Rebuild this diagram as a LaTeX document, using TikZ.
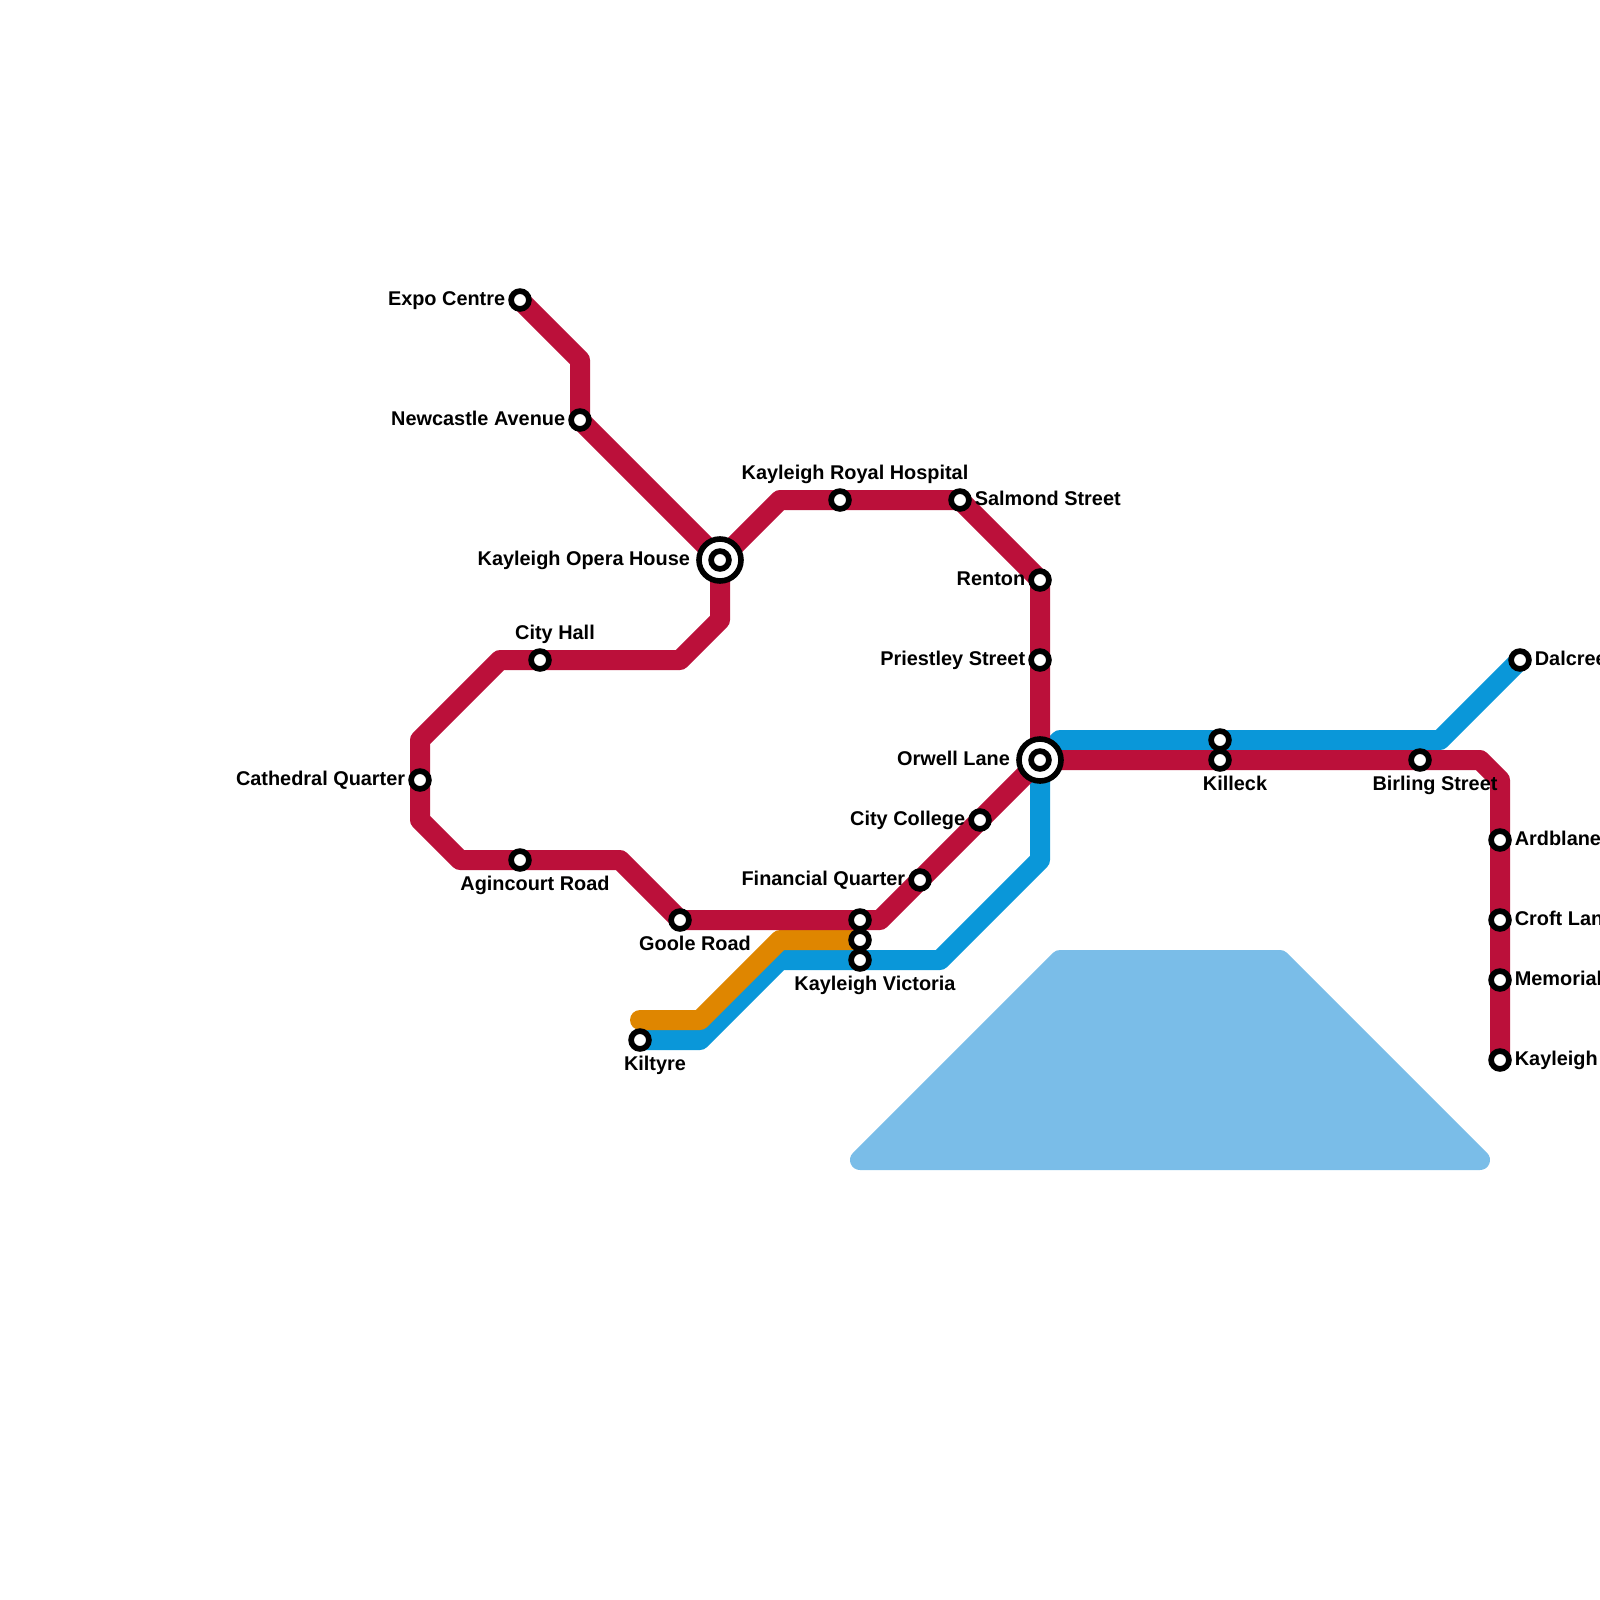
\documentclass[tikz,border=0pt]{standalone}
\usepackage{fontspec}
\setmainfont{Liberation Sans}
\usetikzlibrary{positioning, backgrounds}
\definecolor{mRed}{HTML}{BB103A}
\definecolor{mBlue}{HTML}{0A97D9}
\definecolor{mOrange}{HTML}{DF8600}
\definecolor{mLake}{HTML}{7ABDE8}
\begin{document}
\begin{tikzpicture}[x=5mm, y=-5mm,
      stn/.style={draw, circle, fill=white, line width=1.42mm, minimum size=4.45mm, inner sep=0pt},
      hub/.style={draw, circle, fill=white, line width=1.4mm, minimum size=10.5mm, inner sep=0pt},
      lbl/.style={inner sep=0pt, text height=3.6mm, text depth=0pt, font=\bfseries\fontsize{14.15}{16}\selectfont},
      side/.style={lbl, yshift=0.4mm},
      up/.style={lbl, xshift=3.75mm},
      dn/.style={lbl, xshift=3.75mm},
      metro/.style={line width=5mm, line join=round},
      lake/.style={draw=mLake, fill=mLake, line width=5mm, line join=round}]
    \useasboundingbox (0,0) rectangle (80,80);
    % stations
    \node[stn] (expo)     at (26,15)   {};
    \node[stn] (newc)     at (29,21)   {};
    \node[hub] (opera)    at (36,28)   {};
    \node[stn] (operain)  at (36,28)   {};
    \node[stn] (royal)    at (42,25)   {};
    \node[stn] (salmond)  at (48,25)   {};
    \node[stn] (renton)   at (52,29)   {};
    \node[stn] (priest)   at (52,33)   {};
    \node[hub] (orwell)   at (52,38)   {};
    \node[stn] (orwellin) at (52,38)   {};
    \node[stn] (college)  at (49,41)   {};
    \node[stn] (finance)  at (46,44)   {};
    \node[stn] (cityhall) at (27,33)   {};
    \node[stn] (cathedral) at (21,39)  {};
    \node[stn] (agin)     at (26,43)   {};
    \node[stn] (goole)    at (34,46)   {};
    \node[stn] (vicr)     at (43,46)   {};
    \node[stn] (vico)     at (43,47)   {};
    \node[stn] (vicb)     at (43,48)   {};
    \node[stn] (kiltyre)  at (32,52)   {};
    \node[stn] (killb)    at (61,37)   {};
    \node[stn] (killr)    at (61,38)   {};
    \node[stn] (birling)  at (71,38)   {};
    \node[stn] (dalcree)  at (76,33)   {};
    \node[stn] (ardblane) at (75,42)   {};
    \node[stn] (croft)    at (75,46)   {};
    \node[stn] (memorial) at (75,49)   {};
    \node[stn] (kayleigh) at (75,53)   {};
    % bends
    \coordinate (b1)  at (29,18);
    \coordinate (b2)  at (39,25);
    \coordinate (b3)  at (36,31);
    \coordinate (b4)  at (34,33);
    \coordinate (b5)  at (25,33);
    \coordinate (b6)  at (21,37);
    \coordinate (b7)  at (21,41);
    \coordinate (b8)  at (23,43);
    \coordinate (b9)  at (31,43);
    \coordinate (b10) at (44,46);
    \coordinate (b11) at (74,38);
    \coordinate (b12) at (75,39);
    \coordinate (c1)  at (35,52);
    \coordinate (c2)  at (39,48);
    \coordinate (c3)  at (47,48);
    \coordinate (c4)  at (52,43);
    \coordinate (c5)  at (53,37);
    \coordinate (c6)  at (72,37);
    \coordinate (o1)  at (32,51);
    \coordinate (o2)  at (35,51);
    \coordinate (o3)  at (39,47);
    \coordinate (l1)  at (43,58);
    \coordinate (l2)  at (53,48);
    \coordinate (l3)  at (64,48);
    \coordinate (l4)  at (74,58);
    % lines
    \begin{scope}[on background layer]
      \draw[lake] (l1) -- (l2) -- (l3) -- (l4) -- cycle;
      \draw[metro, mBlue] (kiltyre.center) -- (c1) -- (c2) -- (c3) -- (c4) -- (orwell.center) -- (c5) -- (c6) -- (dalcree.center);
      \draw[metro, mOrange, line cap=round] (o1) -- (o2) -- (o3) -- (vico.center);
      \draw[metro, mRed] (expo.center) -- (b1) -- (newc.center) -- (opera.center) -- (b2) -- (salmond.center) -- (renton.center) -- (orwell.center);
      \draw[metro, mRed] (opera.center) -- (b3) -- (b4) -- (b5) -- (b6) -- (b7) -- (b8) -- (b9) -- (goole.center) -- (b10) -- (orwell.center) -- (b11) -- (b12) -- (kayleigh.center);
    \end{scope}
    % labels
    \node[side, left=0.7mm of expo]       (expolbl)  {Expo Centre};
    \node[side, left=0.7mm of newc]       (newclbl)  {Newcastle Avenue};
    \node[side, left=1.5mm of opera]      (operalbl) {Kayleigh Opera House};
    \node[up, above=2mm of royal]         (royallbl) {Kayleigh Royal Hospital};
    \node[side, right=0.7mm of salmond]   (salmondlbl) {Salmond Street};
    \node[side, left=0.7mm of renton]     (rentonlbl) {Renton};
    \node[side, left=0.7mm of priest]     (priestlbl) {Priestley Street};
    \node[side, left=1.5mm of orwell]     (orwelllbl) {Orwell Lane};
    \node[side, left=0.7mm of college]    (collegelbl) {City College};
    \node[side, left=0.7mm of finance]    (financelbl) {Financial Quarter};
    \node[up, above=2mm of cityhall]      (cityhalllbl) {City Hall};
    \node[side, left=0.7mm of cathedral]  (cathedrallbl) {Cathedral Quarter};
    \node[dn, below=1.05mm of agin]       (aginlbl)  {Agincourt Road};
    \node[dn, below=1.05mm of goole]      (goolelbl) {Goole Road};
    \node[dn, below=1.05mm of vicb]       (viclbl)   {Kayleigh Victoria};
    \node[dn, below=1.05mm of kiltyre]    (kiltyrelbl) {Kiltyre};
    \node[dn, below=1.05mm of killr]      (killlbl)  {Killeck};
    \node[dn, below=1.05mm of birling]    (birlinglbl) {Birling Street};
    \node[side, right=0.7mm of dalcree]   (dalcreelbl) {Dalcree};
    \node[side, right=0.7mm of ardblane]  (ardblanelbl) {Ardblane};
    \node[side, right=0.7mm of croft]     (croftlbl) {Croft Lan};
    \node[side, right=0.7mm of memorial]  (memoriallbl) {Memorial};
    \node[side, right=0.7mm of kayleigh]  (kayleighlbl) {Kayleigh};
  \end{tikzpicture}
\end{document}
